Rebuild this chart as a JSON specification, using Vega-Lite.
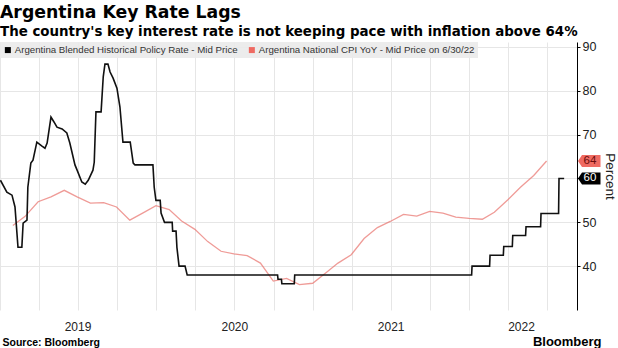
{
  "$schema": "https://vega.github.io/schema/vega-lite/v6.json",
  "autosize": {"type": "none"},
  "width": 577,
  "height": 268,
  "padding": {"left": 0, "top": 42, "right": 41, "bottom": 38},
  "background": "white",
  "title": {
    "text": "Argentina Key Rate Lags",
    "subtitle": "The country's key interest rate is not keeping pace with inflation above 64%",
    "anchor": "start",
    "frame": "group",
    "font": "DejaVu Sans",
    "fontSize": 17.3,
    "fontWeight": "bold",
    "color": "#000000",
    "subtitleFont": "DejaVu Sans",
    "subtitleFontSize": 13.4,
    "subtitleFontWeight": "bold",
    "subtitleColor": "#000000",
    "subtitlePadding": 3,
    "offset": 3
  },
  "config": {"view": {"stroke": null}},
  "data": {
    "format": {"parse": {"d": "date"}},
    "values": [
      {"s": "Policy", "d": "2019-01-02", "v": 59.6},
      {"s": "Policy", "d": "2019-01-17", "v": 56.9},
      {"s": "Policy", "d": "2019-01-29", "v": 56.2},
      {"s": "Policy", "d": "2019-02-05", "v": 53.5},
      {"s": "Policy", "d": "2019-02-12", "v": 44.3},
      {"s": "Policy", "d": "2019-02-21", "v": 44.3},
      {"s": "Policy", "d": "2019-02-24", "v": 49.8},
      {"s": "Policy", "d": "2019-03-05", "v": 50.5},
      {"s": "Policy", "d": "2019-03-07", "v": 58.0},
      {"s": "Policy", "d": "2019-03-14", "v": 63.5},
      {"s": "Policy", "d": "2019-03-19", "v": 64.2},
      {"s": "Policy", "d": "2019-03-28", "v": 68.3},
      {"s": "Policy", "d": "2019-04-09", "v": 67.4},
      {"s": "Policy", "d": "2019-04-16", "v": 66.9},
      {"s": "Policy", "d": "2019-04-21", "v": 68.1},
      {"s": "Policy", "d": "2019-04-30", "v": 74.0},
      {"s": "Policy", "d": "2019-05-07", "v": 72.9},
      {"s": "Policy", "d": "2019-05-14", "v": 71.7},
      {"s": "Policy", "d": "2019-05-26", "v": 71.3},
      {"s": "Policy", "d": "2019-06-06", "v": 70.4},
      {"s": "Policy", "d": "2019-06-13", "v": 68.1},
      {"s": "Policy", "d": "2019-06-25", "v": 63.1},
      {"s": "Policy", "d": "2019-06-30", "v": 61.9},
      {"s": "Policy", "d": "2019-07-11", "v": 59.2},
      {"s": "Policy", "d": "2019-07-19", "v": 58.7},
      {"s": "Policy", "d": "2019-07-26", "v": 59.6},
      {"s": "Policy", "d": "2019-08-06", "v": 61.9},
      {"s": "Policy", "d": "2019-08-09", "v": 63.7},
      {"s": "Policy", "d": "2019-08-13", "v": 75.2},
      {"s": "Policy", "d": "2019-08-25", "v": 75.2},
      {"s": "Policy", "d": "2019-08-30", "v": 83.2},
      {"s": "Policy", "d": "2019-09-03", "v": 86.1},
      {"s": "Policy", "d": "2019-09-10", "v": 86.1},
      {"s": "Policy", "d": "2019-09-15", "v": 84.3},
      {"s": "Policy", "d": "2019-09-22", "v": 82.9},
      {"s": "Policy", "d": "2019-10-01", "v": 80.6},
      {"s": "Policy", "d": "2019-10-08", "v": 76.3},
      {"s": "Policy", "d": "2019-10-15", "v": 68.3},
      {"s": "Policy", "d": "2019-11-01", "v": 68.3},
      {"s": "Policy", "d": "2019-11-08", "v": 63.5},
      {"s": "Policy", "d": "2019-11-12", "v": 63.1},
      {"s": "Policy", "d": "2019-12-24", "v": 63.1},
      {"s": "Policy", "d": "2019-12-27", "v": 58.0},
      {"s": "Policy", "d": "2019-12-31", "v": 55.0},
      {"s": "Policy", "d": "2020-01-10", "v": 55.0},
      {"s": "Policy", "d": "2020-01-12", "v": 52.1},
      {"s": "Policy", "d": "2020-01-20", "v": 50.0},
      {"s": "Policy", "d": "2020-02-07", "v": 50.0},
      {"s": "Policy", "d": "2020-02-08", "v": 48.0},
      {"s": "Policy", "d": "2020-02-16", "v": 48.0},
      {"s": "Policy", "d": "2020-02-18", "v": 44.3},
      {"s": "Policy", "d": "2020-02-23", "v": 40.0},
      {"s": "Policy", "d": "2020-03-08", "v": 40.0},
      {"s": "Policy", "d": "2020-03-13", "v": 38.0},
      {"s": "Policy", "d": "2020-10-10", "v": 38.0},
      {"s": "Policy", "d": "2020-10-11", "v": 37.0},
      {"s": "Policy", "d": "2020-10-19", "v": 37.0},
      {"s": "Policy", "d": "2020-10-20", "v": 36.0},
      {"s": "Policy", "d": "2020-11-18", "v": 36.0},
      {"s": "Policy", "d": "2020-11-19", "v": 38.0},
      {"s": "Policy", "d": "2022-01-06", "v": 38.0},
      {"s": "Policy", "d": "2022-01-07", "v": 40.0},
      {"s": "Policy", "d": "2022-02-17", "v": 40.0},
      {"s": "Policy", "d": "2022-02-18", "v": 42.5},
      {"s": "Policy", "d": "2022-03-21", "v": 42.5},
      {"s": "Policy", "d": "2022-03-22", "v": 44.5},
      {"s": "Policy", "d": "2022-04-11", "v": 44.5},
      {"s": "Policy", "d": "2022-04-12", "v": 47.0},
      {"s": "Policy", "d": "2022-05-12", "v": 47.0},
      {"s": "Policy", "d": "2022-05-13", "v": 49.0},
      {"s": "Policy", "d": "2022-06-16", "v": 49.0},
      {"s": "Policy", "d": "2022-06-17", "v": 52.0},
      {"s": "Policy", "d": "2022-07-28", "v": 52.0},
      {"s": "Policy", "d": "2022-07-29", "v": 60.0},
      {"s": "Policy", "d": "2022-08-10", "v": 60.0},
      {"s": "CPI", "d": "2019-01-31", "v": 49.3},
      {"s": "CPI", "d": "2019-02-28", "v": 51.3},
      {"s": "CPI", "d": "2019-03-31", "v": 54.7},
      {"s": "CPI", "d": "2019-04-30", "v": 55.8},
      {"s": "CPI", "d": "2019-05-31", "v": 57.3},
      {"s": "CPI", "d": "2019-06-30", "v": 55.8},
      {"s": "CPI", "d": "2019-07-31", "v": 54.4},
      {"s": "CPI", "d": "2019-08-31", "v": 54.5},
      {"s": "CPI", "d": "2019-09-30", "v": 53.5},
      {"s": "CPI", "d": "2019-10-31", "v": 50.5},
      {"s": "CPI", "d": "2019-11-30", "v": 52.1},
      {"s": "CPI", "d": "2019-12-31", "v": 53.8},
      {"s": "CPI", "d": "2020-01-31", "v": 52.9},
      {"s": "CPI", "d": "2020-02-29", "v": 50.3},
      {"s": "CPI", "d": "2020-03-31", "v": 48.4},
      {"s": "CPI", "d": "2020-04-30", "v": 45.6},
      {"s": "CPI", "d": "2020-05-31", "v": 43.4},
      {"s": "CPI", "d": "2020-06-30", "v": 42.8},
      {"s": "CPI", "d": "2020-07-31", "v": 42.4},
      {"s": "CPI", "d": "2020-08-31", "v": 40.7},
      {"s": "CPI", "d": "2020-09-30", "v": 36.6},
      {"s": "CPI", "d": "2020-10-31", "v": 37.2},
      {"s": "CPI", "d": "2020-11-30", "v": 35.8},
      {"s": "CPI", "d": "2020-12-31", "v": 36.1},
      {"s": "CPI", "d": "2021-01-31", "v": 38.5},
      {"s": "CPI", "d": "2021-02-28", "v": 40.7},
      {"s": "CPI", "d": "2021-03-31", "v": 42.6},
      {"s": "CPI", "d": "2021-04-30", "v": 46.3},
      {"s": "CPI", "d": "2021-05-31", "v": 48.8},
      {"s": "CPI", "d": "2021-06-30", "v": 50.2},
      {"s": "CPI", "d": "2021-07-31", "v": 51.8},
      {"s": "CPI", "d": "2021-08-31", "v": 51.4},
      {"s": "CPI", "d": "2021-09-30", "v": 52.5},
      {"s": "CPI", "d": "2021-10-31", "v": 52.1},
      {"s": "CPI", "d": "2021-11-30", "v": 51.2},
      {"s": "CPI", "d": "2021-12-31", "v": 50.9},
      {"s": "CPI", "d": "2022-01-31", "v": 50.7},
      {"s": "CPI", "d": "2022-02-28", "v": 52.3},
      {"s": "CPI", "d": "2022-03-31", "v": 55.1},
      {"s": "CPI", "d": "2022-04-30", "v": 58.0},
      {"s": "CPI", "d": "2022-05-31", "v": 60.7},
      {"s": "CPI", "d": "2022-06-30", "v": 64.0}
    ]
  },
  "layer": [
    {
      "transform": [{"filter": "datum.s == 'CPI'"}],
      "mark": {"type": "line", "strokeWidth": 1.3, "opacity": 0.7},
      "encoding": {
        "x": {
          "field": "d",
          "type": "temporal",
          "scale": {"domain": [{"year": 2019, "month": 1, "date": 1}, {"year": 2022, "month": 9, "date": 9}]},
          "axis": {
            "orient": "bottom",
            "values": [
              {"year": 2019, "month": 1, "date": 1}, {"year": 2019, "month": 4, "date": 1}, {"year": 2019, "month": 7, "date": 1}, {"year": 2019, "month": 10, "date": 1},
              {"year": 2020, "month": 1, "date": 1}, {"year": 2020, "month": 4, "date": 1}, {"year": 2020, "month": 7, "date": 1}, {"year": 2020, "month": 10, "date": 1},
              {"year": 2021, "month": 1, "date": 1}, {"year": 2021, "month": 4, "date": 1}, {"year": 2021, "month": 7, "date": 1}, {"year": 2021, "month": 10, "date": 1},
              {"year": 2022, "month": 1, "date": 1}, {"year": 2022, "month": 4, "date": 1}, {"year": 2022, "month": 7, "date": 1}
            ],
            "grid": true,
            "gridColor": "#e6e6e6",
            "ticks": false,
            "domain": false,
            "labelOverlap": false,
            "labelFlush": false,
            "labelExpr": "month(datum.value) == 6 ? timeFormat(datum.value, '%Y') : ''",
            "labelOffset": {"condition": {"test": "year(datum.value) == 2022", "value": -26}, "value": 0},
            "labelPadding": 11,
            "labelFont": "Liberation Sans",
            "labelFontSize": 12,
            "labelColor": "#222222",
            "title": "Source: Bloomberg",
            "titleX": 2,
            "titleY": 35,
            "titleAlign": "left",
            "titleBaseline": "alphabetic",
            "titleFont": "Liberation Sans",
            "titleFontSize": 10.5,
            "titleFontWeight": "bold",
            "titleColor": "#000000"
          }
        },
        "y": {
          "field": "v",
          "type": "quantitative",
          "scale": {"domain": [30, 91.14], "nice": false, "zero": false},
          "axis": {
            "orient": "right",
            "values": [40, 50, 60, 70, 80, 90],
            "labelExpr": "datum.value == 60 ? '' : datum.label",
            "grid": true,
            "gridColor": "#e6e6e6",
            "domainColor": "#000000",
            "tickColor": "#000000",
            "tickSize": 3,
            "labelPadding": 2,
            "labelFont": "Liberation Sans",
            "labelFontSize": 12.5,
            "labelColor": "#222222",
            "title": "Percent",
            "titleFont": "Liberation Sans",
            "titleFontSize": 13.5,
            "titleFontWeight": "normal",
            "titleColor": "#222222",
            "titlePadding": 7
          }
        },
        "color": {
          "field": "s",
          "type": "nominal",
          "scale": {"domain": ["Policy", "CPI"], "range": ["#111111", "#e8706b"]},
          "legend": {
            "orient": "top-left",
            "offset": 0,
            "direction": "horizontal",
            "title": null,
            "fillColor": "rgba(234,234,234,0.9)",
            "padding": 3,
            "symbolType": "square",
            "symbolSize": 36,
            "symbolOpacity": 1,
            "labelFont": "Liberation Sans",
            "labelFontSize": 9.7,
            "labelColor": "#333333",
            "labelLimit": 400,
            "columnPadding": 9,
            "labelOffset": 2,
            "labelExpr": "datum.label == 'Policy' ? 'Argentina Blended Historical Policy Rate - Mid Price' : 'Argentina National CPI YoY - Mid Price on 6/30/22'",
            "encode": {"symbols": {"update": {"fill": {"scale": "color", "field": "value"}, "strokeWidth": {"value": 0}, "opacity": {"value": 1}}}}
          }
        }
      }
    },
    {
      "transform": [{"filter": "datum.s == 'Policy'"}],
      "mark": {"type": "line", "strokeWidth": 1.6},
      "encoding": {
        "x": {"field": "d", "type": "temporal", "axis": null},
        "y": {"field": "v", "type": "quantitative"},
        "color": {"field": "s", "type": "nominal"}
      }
    },
    {
      "transform": [
        {"joinaggregate": [{"op": "max", "field": "d", "as": "md"}], "groupby": ["s"]},
        {"filter": "time(datum.d) == datum.md"}
      ],
      "mark": {"type": "point", "filled": true, "shape": "M 0.2 0 L 1 -1.2 L 4.7 -1.2 L 4.7 1.2 L 1 1.2 Z", "size": 100, "opacity": 1, "strokeWidth": 0},
      "encoding": {
        "x": {
          "datum": {"year": 2022, "month": 9, "date": 9},
          "type": "temporal",
          "axis": {
            "orient": "bottom",
            "labels": false,
            "ticks": false,
            "domain": false,
            "grid": false,
            "title": "Bloomberg",
            "titleX": 601,
            "titleY": 35,
            "titleAlign": "right",
            "titleBaseline": "alphabetic",
            "titleFont": "Liberation Sans",
            "titleFontSize": 13,
            "titleFontWeight": "bold",
            "titleColor": "#000000"
          }
        },
        "y": {"field": "v", "type": "quantitative"},
        "fill": {"field": "s", "type": "nominal", "scale": {"domain": ["Policy", "CPI"], "range": ["#000000", "#ef6a62"]}, "legend": null}
      }
    },
    {
      "transform": [
        {"joinaggregate": [{"op": "max", "field": "d", "as": "md"}], "groupby": ["s"]},
        {"filter": "time(datum.d) == datum.md"}
      ],
      "mark": {"type": "text", "dx": 13, "align": "center", "baseline": "middle", "font": "Liberation Sans", "fontSize": 11.5},
      "encoding": {
        "x": {"datum": {"year": 2022, "month": 9, "date": 9}, "type": "temporal", "axis": null},
        "y": {"field": "v", "type": "quantitative"},
        "text": {"field": "v", "type": "quantitative", "format": ".0f"},
        "color": {"condition": {"test": "datum.s == 'CPI'", "value": "#6a0c0c"}, "value": "#ffffff"}
      }
    }
  ],
  "resolve": {"axis": {"x": "independent"}}
}
